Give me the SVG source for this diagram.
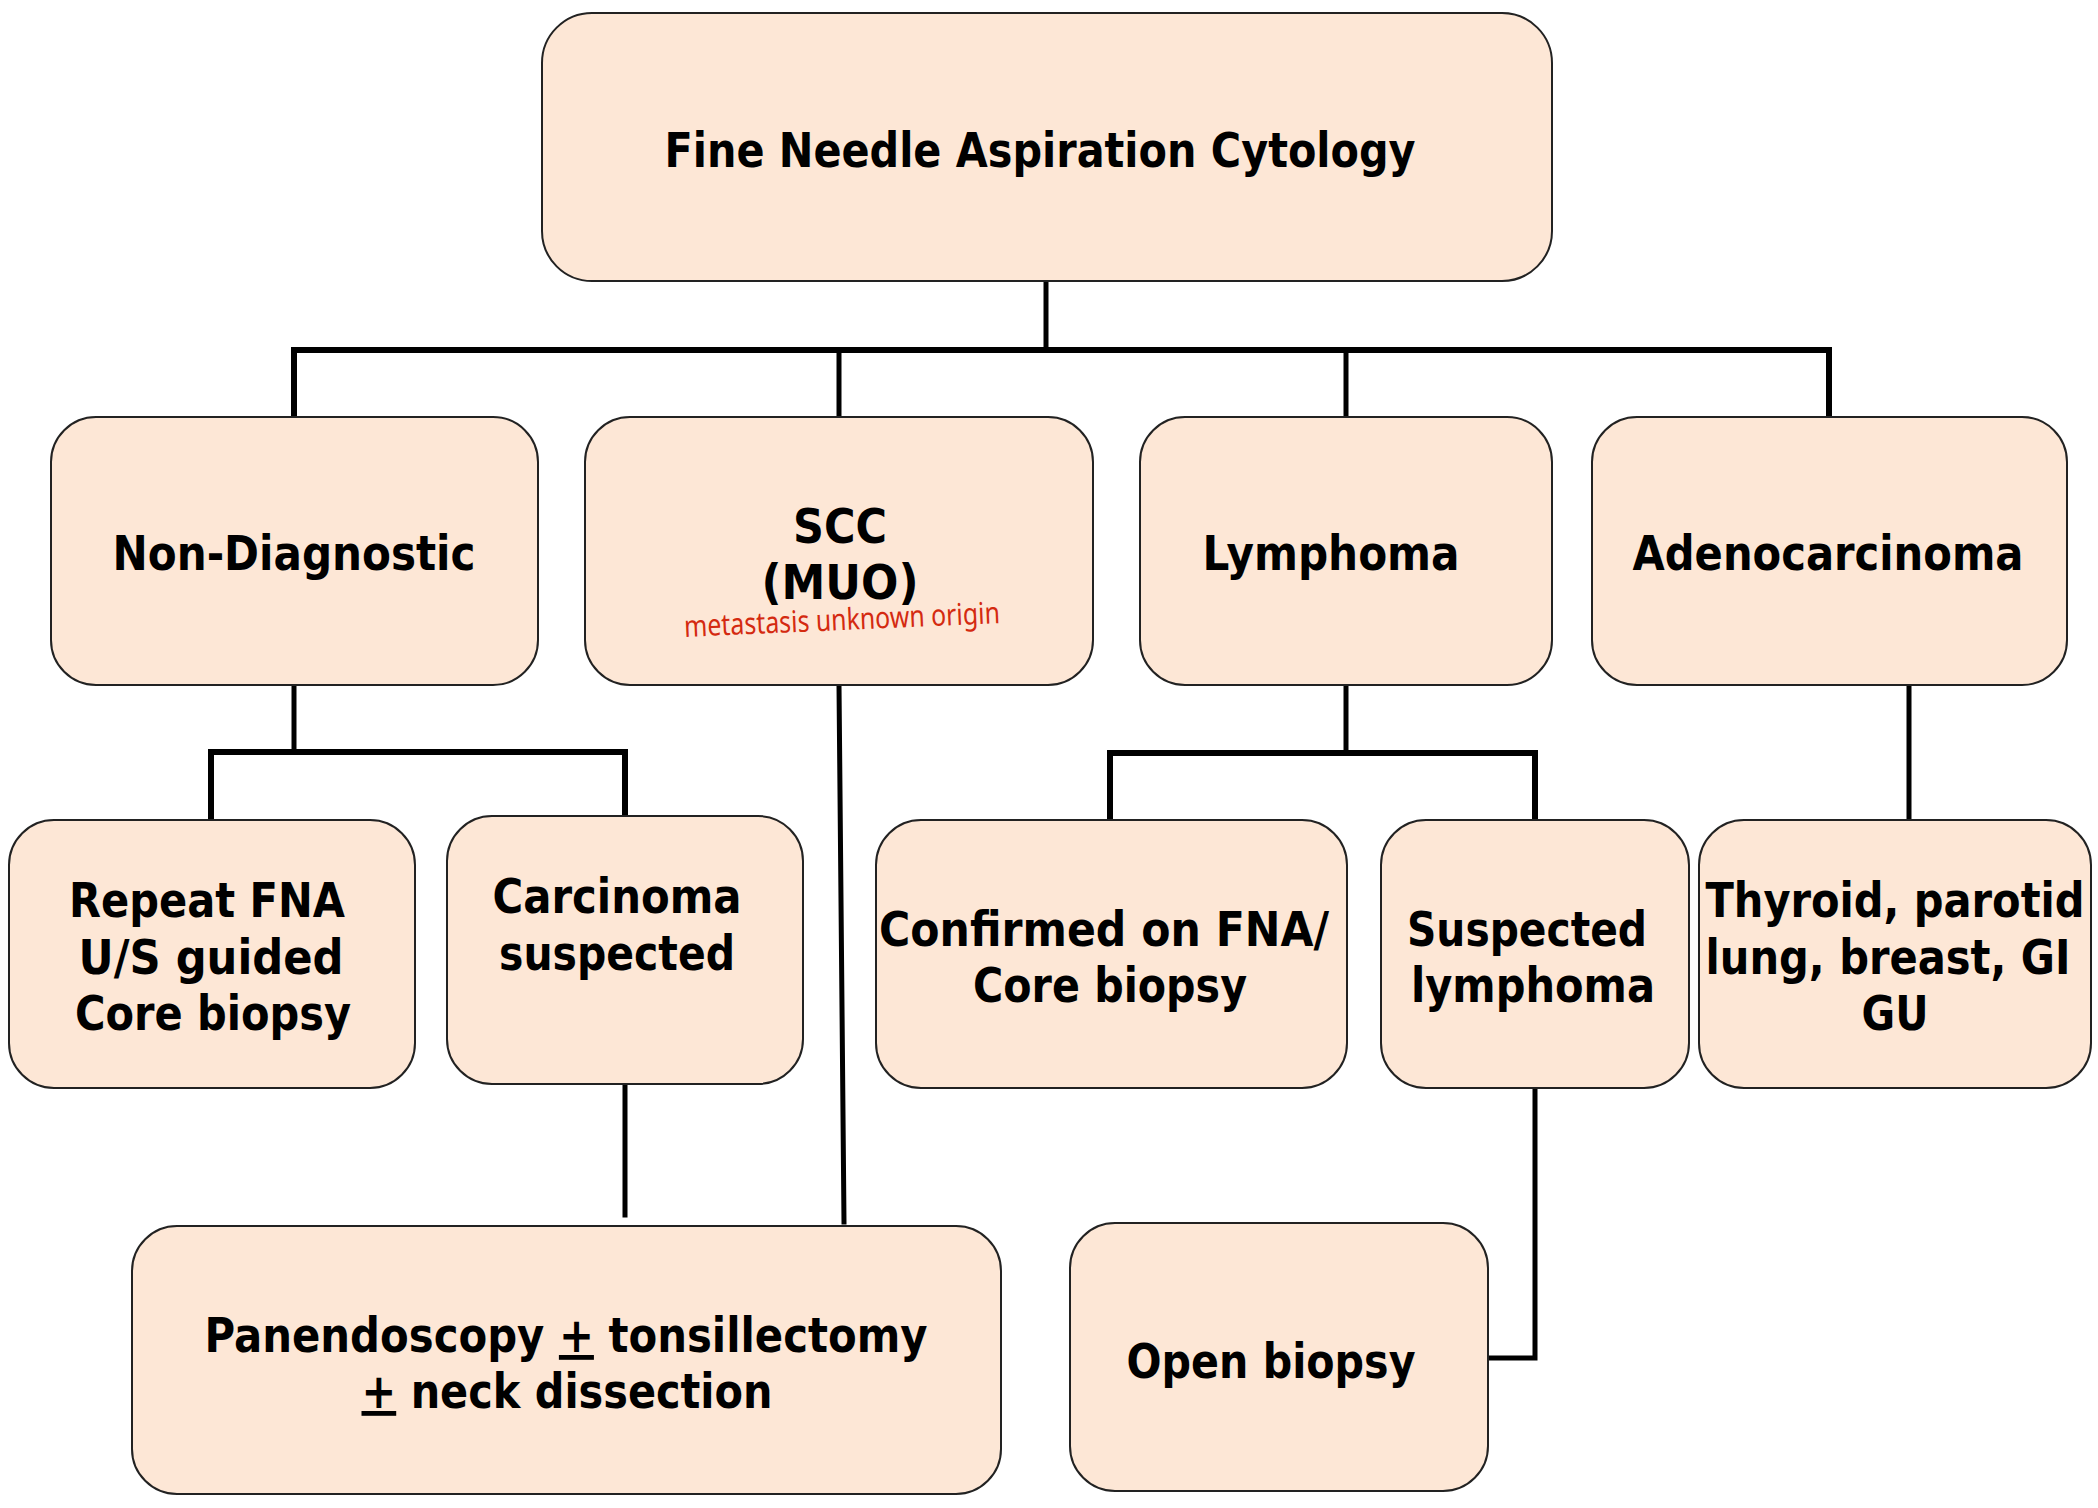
<svg xmlns="http://www.w3.org/2000/svg" width="2098" height="1508" viewBox="0 0 2098 1508">
<style>
.box{fill:#fde7d6;stroke:#222;stroke-width:2}
.t{font-family:"DejaVu Sans",Verdana,sans-serif;font-weight:bold;font-size:48px;fill:#000;text-anchor:middle}
.ln{fill:none;stroke:#000;stroke-width:5;stroke-linejoin:miter;stroke-linecap:square}
.note{font-family:"Noto Sans","DejaVu Sans",sans-serif;font-weight:400;font-size:30px;fill:#d42a10;text-anchor:middle}
</style>
<rect width="2098" height="1508" fill="#fff"/>
<g id="connectors">
<path class="ln" d="M1046 281 V350"/>
<path class="ln" d="M294 417 V350 H1829 V417" style="stroke-width:6"/>
<path class="ln" d="M839 350 V417"/>
<path class="ln" d="M1346 350 V417"/>
<path class="ln" d="M294 685 V752"/>
<path class="ln" d="M211 819 V752 H625 V816" style="stroke-width:6"/>
<path class="ln" d="M1346 685 V753"/>
<path class="ln" d="M1110 820 V753 H1535 V820" style="stroke-width:6"/>
<path class="ln" d="M1909 685 V820"/>
<path class="ln" d="M625 1084 V1215"/>
<path class="ln" d="M839 685 L844 1222"/>
<path class="ln" d="M1535 1088 V1358 H1488"/>
</g>
<g id="n-fnac">
<rect class="box" x="542" y="13" width="1010" height="268" rx="50"/>
<text class="t" x="1040" y="167" textLength="751" lengthAdjust="spacingAndGlyphs">Fine Needle Aspiration Cytology</text>
</g>
<g id="n-nondiag">
<rect class="box" x="51" y="417" width="487" height="268" rx="45"/>
<text class="t" x="294" y="570" textLength="363" lengthAdjust="spacingAndGlyphs">Non-Diagnostic</text>
</g>
<g id="n-scc">
<rect class="box" x="585" y="417" width="508" height="268" rx="45"/>
<text class="t" x="840" y="543" textLength="94" lengthAdjust="spacingAndGlyphs">SCC</text>
<text class="t" x="840" y="599" textLength="157" lengthAdjust="spacingAndGlyphs">(MUO)</text>
<text class="note" x="842" y="630" transform="rotate(-2.5 842 620)" textLength="316" lengthAdjust="spacingAndGlyphs">metastasis unknown origin</text>
</g>
<g id="n-lymphoma">
<rect class="box" x="1140" y="417" width="412" height="268" rx="45"/>
<text class="t" x="1331" y="570" textLength="257" lengthAdjust="spacingAndGlyphs">Lymphoma</text>
</g>
<g id="n-adeno">
<rect class="box" x="1592" y="417" width="475" height="268" rx="45"/>
<text class="t" x="1828" y="570" textLength="391" lengthAdjust="spacingAndGlyphs">Adenocarcinoma</text>
</g>
<g id="n-repeat">
<rect class="box" x="9" y="820" width="406" height="268" rx="45"/>
<text class="t" x="207" y="917" textLength="276" lengthAdjust="spacingAndGlyphs">Repeat FNA</text>
<text class="t" x="211" y="974" textLength="265" lengthAdjust="spacingAndGlyphs">U/S guided</text>
<text class="t" x="213" y="1030" textLength="276" lengthAdjust="spacingAndGlyphs">Core biopsy</text>
</g>
<g id="n-carcinoma">
<rect class="box" x="447" y="816" width="356" height="268" rx="45"/>
<text class="t" x="617" y="913" textLength="249" lengthAdjust="spacingAndGlyphs">Carcinoma</text>
<text class="t" x="617" y="970" textLength="236" lengthAdjust="spacingAndGlyphs">suspected</text>
</g>
<g id="n-confirmed">
<rect class="box" x="876" y="820" width="471" height="268" rx="45"/>
<text class="t" x="1104" y="946" textLength="450" lengthAdjust="spacingAndGlyphs">Confirmed on FNA/</text>
<text class="t" x="1110" y="1002" textLength="274" lengthAdjust="spacingAndGlyphs">Core biopsy</text>
</g>
<g id="n-suspected">
<rect class="box" x="1381" y="820" width="308" height="268" rx="45"/>
<text class="t" x="1527" y="946" textLength="240" lengthAdjust="spacingAndGlyphs">Suspected</text>
<text class="t" x="1533" y="1002" textLength="244" lengthAdjust="spacingAndGlyphs">lymphoma</text>
</g>
<g id="n-thyroid">
<rect class="box" x="1699" y="820" width="392" height="268" rx="45"/>
<text class="t" x="1895" y="917" textLength="379" lengthAdjust="spacingAndGlyphs">Thyroid, parotid</text>
<text class="t" x="1888" y="974" textLength="365" lengthAdjust="spacingAndGlyphs">lung, breast, GI</text>
<text class="t" x="1895" y="1030" textLength="67" lengthAdjust="spacingAndGlyphs">GU</text>
</g>
<g id="n-panendo">
<rect class="box" x="132" y="1226" width="869" height="268" rx="45"/>
<text class="t" x="566" y="1352" textLength="723" lengthAdjust="spacingAndGlyphs">Panendoscopy <tspan text-decoration="underline">+</tspan> tonsillectomy</text>
<text class="t" x="567" y="1408" textLength="411" lengthAdjust="spacingAndGlyphs"><tspan text-decoration="underline">+</tspan> neck dissection</text>
</g>
<g id="n-open">
<rect class="box" x="1070" y="1223" width="418" height="268" rx="45"/>
<text class="t" x="1271" y="1378" textLength="289" lengthAdjust="spacingAndGlyphs">Open biopsy</text>
</g>
</svg>
